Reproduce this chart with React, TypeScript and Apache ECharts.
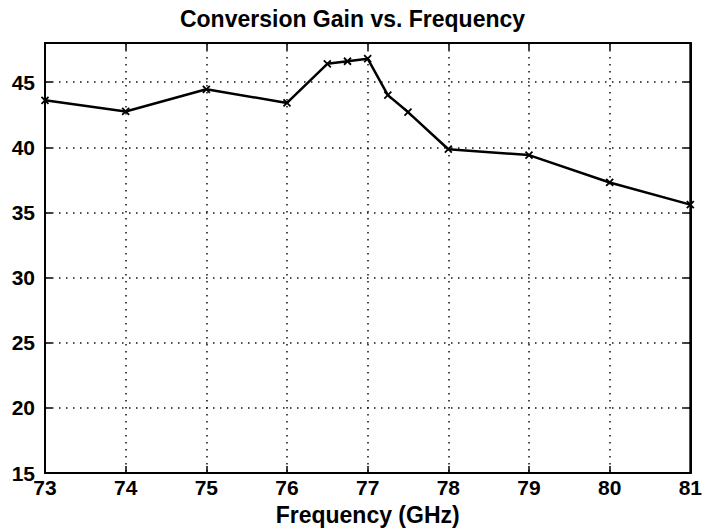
import React, { useEffect, useRef } from "react";
import * as echarts from "echarts";

const titleText = "Conversion Gain vs. Frequency";
const xAxisName = "Frequency (GHz)";
const frequencies = [73, 74, 75, 76, 76.5, 76.75, 77, 77.25, 77.5, 78, 79, 80, 81];
const gains = [43.6, 42.75, 44.45, 43.4, 46.4, 46.6, 46.8, 44.0, 42.7, 39.85, 39.4, 37.3, 35.6];
const xRange = [73, 81];
const yRange = [15, 48];

const FONT = "'Liberation Sans', Arial, Helvetica, sans-serif";

export default function App() {
  const ref = useRef<HTMLDivElement>(null);
  useEffect(() => {
    document.body.style.margin = "0";
    const chart = echarts.init(ref.current!, null, { renderer: "svg" });
    const data = frequencies.map((f, i) => [f, gains[i]]);
    const grid = { left: 45, right: 11, top: 43, bottom: 53 };
    const tick = { show: true, inside: true, length: 7, lineStyle: { color: "#000", width: 1.5 } };
    const splitLine = {
      show: true,
      lineStyle: { color: "#111", width: 1.5, type: [1.5, 5.5] as any },
    };
    const labelStyle = {
      color: "#000",
      fontFamily: FONT,
      fontWeight: "bold" as const,
      fontSize: 21,
    };
    chart.setOption({
      animation: false,
      backgroundColor: "#fff",
      title: {
        text: titleText,
        left: "center",
        top: 7,
        padding: 0,
        textStyle: { fontFamily: FONT, fontWeight: "bold", fontSize: 23, color: "#000" },
      },
      grid: { ...grid, show: true, borderColor: "#000", borderWidth: 2, backgroundColor: "transparent" },
      xAxis: [
        {
          type: "value",
          min: xRange[0],
          max: xRange[1],
          interval: 1,
          position: "bottom",
          axisLine: { show: true, lineStyle: { color: "#000", width: 2 } },
          axisTick: tick,
          splitLine,
          axisLabel: { ...labelStyle, margin: 4 },
          name: xAxisName,
          nameLocation: "middle",
          nameGap: 22,
          nameTextStyle: { fontFamily: FONT, fontWeight: "bold", fontSize: 23, color: "#000" },
        },
        {
          type: "value",
          min: xRange[0],
          max: xRange[1],
          interval: 1,
          position: "top",
          axisLine: { show: true, lineStyle: { color: "#000", width: 2 } },
          axisTick: tick,
          splitLine: { show: false },
          axisLabel: { show: false },
        },
      ],
      yAxis: [
        {
          type: "value",
          min: yRange[0],
          max: yRange[1],
          interval: 5,
          position: "left",
          axisLine: { show: true, lineStyle: { color: "#000", width: 2 } },
          axisTick: tick,
          splitLine,
          axisLabel: { ...labelStyle, margin: 10, showMaxLabel: false },
        },
        {
          type: "value",
          min: yRange[0],
          max: yRange[1],
          interval: 5,
          position: "right",
          axisLine: { show: true, lineStyle: { color: "#000", width: 2 } },
          axisTick: tick,
          splitLine: { show: false },
          axisLabel: { show: false },
        },
      ],
      series: [
        {
          type: "line",
          xAxisIndex: 0,
          yAxisIndex: 0,
          data,
          lineStyle: { color: "#000", width: 2.5 },
          symbol: "path://M0,0L10,10M10,0L0,10",
          symbolSize: 7,
          itemStyle: { color: "#000", borderColor: "#000", borderWidth: 1.8 },
          showSymbol: true,
          z: 5,
        },
      ],
    });
    return () => chart.dispose();
  }, []);
  return <div ref={ref} style={{ width: 705, height: 531 }} />;
}
